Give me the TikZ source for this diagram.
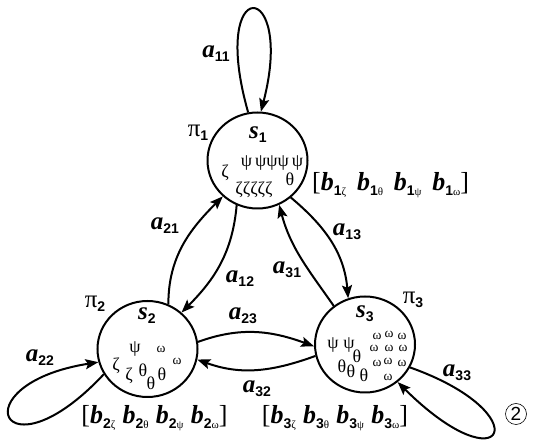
\documentclass[tikz,border=0pt]{standalone}
\usepackage{fontspec}
\setmainfont{Liberation Serif}
\setsansfont{Liberation Sans}
\usetikzlibrary{arrows.meta,positioning,shapes.geometric}
\tikzset{
  hstate/.style={ellipse,draw,line width=2pt,minimum width=100pt,minimum height=96pt,inner sep=0pt},
  tarr/.style={-{Stealth[length=13pt,width=10pt,inset=2.5pt]},line width=2pt},
  tlab/.style={font=\fontsize{25}{25}\selectfont,inner sep=0pt},
  gk/.style={font=\fontsize{18}{18}\selectfont,inner sep=0pt,text height=9pt,text depth=0pt},
  wk/.style={font=\fontsize{13.5}{13.5}\selectfont,inner sep=0pt,text height=5pt,text depth=0pt},
  bvec/.style={font=\fontsize{26}{26}\selectfont,inner sep=0pt}
}
\newcommand{\subf}{\sffamily\bfseries\fontsize{14}{14}\selectfont}
\newcommand{\alab}[1]{\textbf{\textit{a}}\raisebox{-4pt}{\subf #1}}
\newcommand{\slab}[1]{\textbf{\textit{s}}\raisebox{-4pt}{\subf #1}}
\newcommand{\plab}[1]{π\raisebox{-4pt}{\subf #1}}
\newcommand{\bent}[2]{\textbf{\textit{b}}\raisebox{-5pt}{\subf #1{\rmfamily\mdseries\fontsize{11}{11}\selectfont #2}}}

\begin{document}
\begin{tikzpicture}[x=1pt,y=1pt]
\useasboundingbox (0,0) rectangle (533,444);
% states
\node[hstate] (s1) at (257.5,283.5) {};
\node[hstate] (s2) at (147.5,95) {};
\node[hstate] (s3) at (365,99.5) {};
\node[tlab] (ls1) at (258,309) {\slab{1}};
\node[tlab] (ls2) at (147,128) {\slab{2}};
\node[tlab] (ls3) at (365,130) {\slab{3}};
\node[tlab] (p1) at (198,311) {\plab{1}};
\node[tlab] (p2) at (95,140) {\plab{2}};
\node[tlab] (p3) at (413,144) {\plab{3}};
% symbols in s1
\node[gk] (y1) at (272,282) {ψ\,ψψψ\,ψ};
\node[gk] (z1a) at (225,271) {ζ};
\node[gk] (z1b) at (254,254) {ζζζζζ};
\node[gk] (t1) at (290,263) {θ};
% symbols in s2
\node[gk] (y2) at (135,96) {ψ};
\node[wk] (w2a) at (161,94) {ω};
\node[wk] (w2b) at (177,82) {ω};
\foreach \px/\py [count=\k] in {116/78,129/68}
  \node[gk] (z2\k) at (\px,\py) {ζ};
\foreach \px/\py [count=\k] in {143/72,151/59,162/68}
  \node[gk] (t2\k) at (\px,\py) {θ};
% symbols in s3
\node[gk] (y3) at (341,100) {ψ\ ψ};
\foreach \px/\py [count=\k] in {377/107,389/109,402/107,374/95,389/95,403/95,377/80,388/82,402/80,388/66}
  \node[wk] (w3\k) at (\px,\py) {ω};
\foreach \px/\py [count=\k] in {357/86,342/76,351/71,364/67}
  \node[gk] (t3\k) at (\px,\py) {θ};
% emission vectors
\node[bvec,anchor=west] (b1) at (312,259) {[\bent{1}{ζ}\ \,\bent{1}{θ}\ \,\bent{1}{ψ}\ \,\bent{1}{ω}]};
\node[bvec] (b2) at (154.5,26) {[\bent{2}{ζ}\;\bent{2}{θ}\;\bent{2}{ψ}\;\bent{2}{ω}]};
\node[bvec] (b3) at (335,26) {[\bent{3}{ζ}\;\bent{3}{θ}\;\bent{3}{ψ}\;\bent{3}{ω}]};
% transitions
\draw[tarr] (s1.101) .. controls +(-40,140) and +(35,134) .. (s1.86);
\draw[tarr] (s1.245) to[out=-95,in=45] (s2.47);
\draw[tarr] (s2.65) to[out=90,in=225] (s1.226);
\draw[tarr] (s1.-48) to[out=-40,in=95] (s3.110);
\draw[tarr] (s3.129) to[out=125,in=-75] (s1.-64);
\draw[tarr] (s2.8) to[out=20,in=160] (s3.182);
\draw[tarr] (s3.193) to[out=200,in=-20] (s2.-12);
\draw[tarr] (s2.210) .. controls +(-102,-109) and +(-140,-22) .. (s2.195);
\draw[tarr] (s3.-27) .. controls +(130,-46) and +(108,-107) .. (s3.-49);
% transition labels
\node[tlab] (a11) at (216,390) {\alab{11}};
\node[tlab] (a21) at (165,218) {\alab{21}};
\node[tlab] (a12) at (240,165) {\alab{12}};
\node[tlab] (a31) at (287,174) {\alab{31}};
\node[tlab] (a13) at (347,212) {\alab{13}};
\node[tlab] (a23) at (243,128) {\alab{23}};
\node[tlab] (a32) at (257,55) {\alab{32}};
\node[tlab] (a22) at (40,86) {\alab{22}};
\node[tlab] (a33) at (457,71) {\alab{33}};
\node[circle,draw,line width=0.6pt,minimum size=21pt,inner sep=0pt,font=\sffamily\fontsize{19}{19}\selectfont] (n2) at (516,30) {2};
\end{tikzpicture}
\end{document}
